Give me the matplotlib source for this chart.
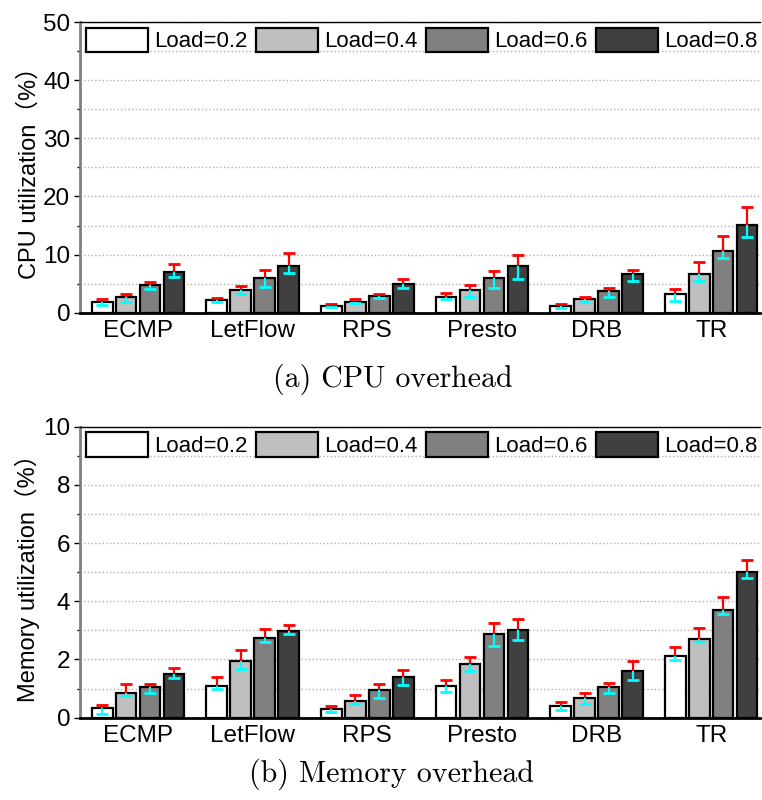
import numpy as np
import matplotlib
matplotlib.use('Agg')
import matplotlib.pyplot as plt
from matplotlib.ticker import MultipleLocator
from matplotlib.patches import Patch

plt.rcParams['font.family'] = ['Liberation Sans', 'Noto Sans CJK SC', 'DejaVu Sans']

schemes = ['ECMP', 'LetFlow', 'RPS', 'Presto', 'DRB', 'TR']
loads = ['Load=0.2', 'Load=0.4', 'Load=0.6', 'Load=0.8']
colors = ['#ffffff', '#bfbfbf', '#808080', '#404040']

# CPU utilization (%), one row per load, one column per scheme
cpu_mean = [[1.78, 2.18, 1.20, 2.75, 1.20, 3.15],
            [2.75, 4.00, 1.90, 3.95, 2.35, 6.70],
            [4.75, 6.00, 2.92, 5.90, 3.78, 10.7],
            [7.10, 8.07, 5.00, 8.07, 6.64, 15.06]]
cpu_high = [[2.40, 2.50, 1.43, 3.38, 1.50, 4.07],
            [3.20, 4.64, 2.30, 4.80, 2.70, 8.65],
            [5.30, 7.40, 3.26, 7.20, 4.35, 13.2],
            [8.36, 10.25, 5.84, 9.97, 7.33, 18.2]]
cpu_low = [[1.37, 1.78, 0.92, 2.35, 0.86, 2.00],
           [1.90, 3.15, 1.60, 2.80, 1.83, 5.50],
           [4.10, 4.50, 2.50, 4.30, 2.80, 9.50],
           [6.20, 6.87, 4.35, 5.80, 5.44, 13.06]]

# Memory utilization (%)
mem_mean = [[0.34, 1.09, 0.29, 1.08, 0.39, 2.12],
            [0.86, 1.95, 0.58, 1.86, 0.66, 2.72],
            [1.05, 2.74, 0.96, 2.86, 1.05, 3.71],
            [1.50, 2.99, 1.39, 3.01, 1.60, 5.00]]
mem_high = [[0.45, 1.39, 0.39, 1.29, 0.54, 2.43],
            [1.16, 2.31, 0.77, 2.09, 0.85, 3.09],
            [1.16, 3.04, 1.16, 3.24, 1.19, 4.15],
            [1.70, 3.18, 1.64, 3.39, 1.96, 5.42]]
mem_low = [[0.11, 0.99, 0.18, 0.88, 0.26, 1.98],
           [0.73, 1.66, 0.46, 1.60, 0.47, 2.59],
           [0.84, 2.59, 0.66, 2.47, 0.85, 3.57],
           [1.37, 2.86, 1.13, 2.68, 1.28, 4.79]]


def panel(ax, mean, high, low, ymax, major, ylabel):
    x = np.arange(len(schemes))
    step = 0.209
    width = 0.18
    for i in range(len(loads)):
        xs = x + (i - 1.5) * step
        m = np.array(mean[i])
        hi = np.array(high[i])
        lo = np.array(low[i])
        ax.bar(xs, m, width, color=colors[i], edgecolor='black', linewidth=1.6, zorder=3)
        # upper part of the error bar in red, lower part in cyan
        ax.vlines(xs, m, hi, color='red', linewidth=1.6, zorder=4)
        ax.plot(xs, hi, ls='', marker='_', ms=9, mew=2, color='red', zorder=4)
        ax.vlines(xs, lo, m, color='cyan', linewidth=1.6, zorder=5)
        ax.plot(xs, lo, ls='', marker='_', ms=9, mew=2, color='cyan', zorder=5)

    ax.set_xlim(-0.507, 5.43)
    ax.set_ylim(0, ymax)
    ax.set_xticks(x)
    ax.set_xticklabels(schemes, fontsize=17.5)
    ax.tick_params(axis='x', length=0, pad=5)
    ax.yaxis.set_major_locator(MultipleLocator(major))
    ax.yaxis.set_minor_locator(MultipleLocator(major / 2))
    ax.tick_params(axis='y', which='major', labelsize=17.5, length=4, width=1, direction='out', pad=3)
    ax.tick_params(axis='y', which='minor', length=2, width=1, direction='out')
    ax.grid(axis='y', which='both', linestyle=':', color='#b0b0b0', linewidth=1, zorder=0)
    ax.set_axisbelow(True)
    ax.spines['right'].set_visible(False)
    ax.spines['left'].set_color('#7f7f7f')
    ax.spines['left'].set_linewidth(2)
    ax.spines['bottom'].set_linewidth(2)
    ax.spines['top'].set_linewidth(1)
    ax.set_ylabel(ylabel, fontsize=17, labelpad=2)

    handles = [Patch(facecolor=c, edgecolor='black', linewidth=1.6) for c in colors]
    ax.legend(handles, loads, ncol=4, loc='upper left', bbox_to_anchor=(0.0, 1.0),
              frameon=False, fontsize=16, handlelength=2.8, handleheight=1.3,
              handletextpad=0.3, columnspacing=0.35, borderpad=0.15, borderaxespad=0.1)


fig = plt.figure(figsize=(7.62, 8), dpi=100)
ax1 = fig.add_axes([0.105, 0.609, 0.893, 0.3635])
ax2 = fig.add_axes([0.105, 0.103, 0.893, 0.3635])

panel(ax1, cpu_mean, cpu_high, cpu_low, 50, 10, 'CPU utilization\uff08%\uff09')
panel(ax2, mem_mean, mem_high, mem_low, 10, 2, 'Memory utilization\uff08%\uff09')

fig.text(0.515, 0.526, '(a) CPU overhead', family='cmr10', fontsize=21.5, ha='center', va='center')
fig.text(0.514, 0.032, '(b) Memory overhead', family='cmr10', fontsize=21.5, ha='center', va='center')

fig.savefig('out.png', dpi=100)
